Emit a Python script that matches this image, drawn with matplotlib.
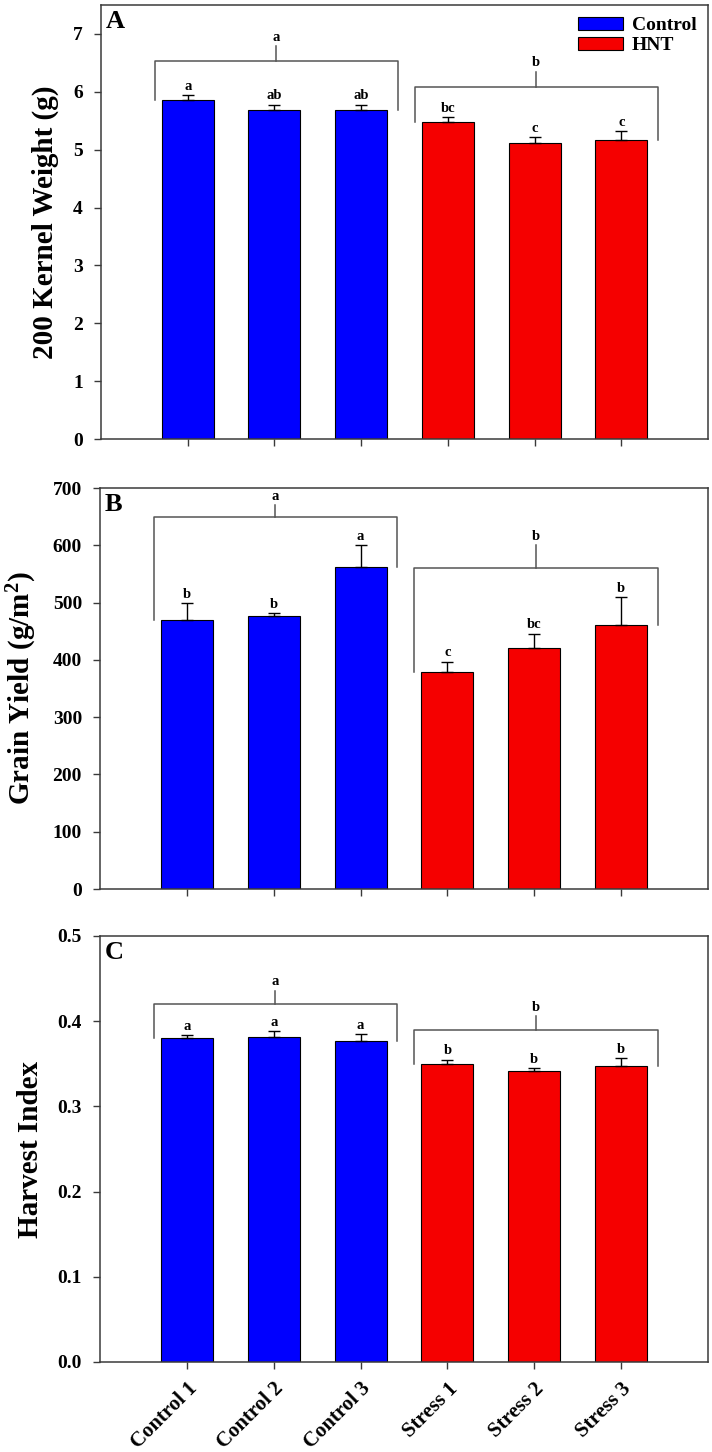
import matplotlib
matplotlib.use("Agg")
import matplotlib.pyplot as plt
from matplotlib.patches import Patch
import numpy as np


CATEGORIES = ["Control 1", "Control 2", "Control 3", "Stress 1", "Stress 2", "Stress 3"]

# panel A - 200 kernel weight
KW_MEAN = [5.85, 5.68, 5.69, 5.47, 5.12, 5.17]
KW_ERR = [0.10, 0.10, 0.09, 0.10, 0.10, 0.15]
KW_LETTERS = ["a", "ab", "ab", "bc", "c", "c"]
KW_GROUP = [6.54, 6.08]        # bracket heights (control, stress)
KW_GROUP_TOP = [6.79, 6.35]

# panel B - grain yield
GY_MEAN = [469, 476, 562, 379, 420, 460]
GY_ERR = [30, 5, 38, 18, 26, 49]
GY_LETTERS = ["b", "b", "a", "c", "bc", "b"]
GY_GROUP = [650, 561]
GY_GROUP_TOP = [671, 600]

# panel C - harvest index
HI_MEAN = [0.380, 0.381, 0.377, 0.350, 0.341, 0.347]
HI_ERR = [0.004, 0.007, 0.008, 0.005, 0.004, 0.010]
HI_LETTERS = ["a", "a", "a", "b", "b", "b"]
HI_GROUP = [0.420, 0.390]
HI_GROUP_TOP = [0.436, 0.406]

GROUP_LETTERS = ["a", "b"]

# COLORS
CONTROL_COLOR = "#0000FF"
STRESS_COLOR = "#F50000"
SPINE_COLOR = "#3a3a3a"
BRACKET_COLOR = "#555555"

FONT = "Liberation Serif"


def draw_panel(ax, means, errs, letters, group_y, group_top, ylim, yticks,
               ylabel, tag, yfmt):
    x = np.arange(len(means))
    colors = [CONTROL_COLOR] * 3 + [STRESS_COLOR] * 3
    ax.bar(x, means, width=0.6, color=colors, edgecolor="black", linewidth=0.8, zorder=2)
    ax.errorbar(x, means, yerr=[np.zeros(len(errs)), errs], fmt="none",
                ecolor="black", elinewidth=1.0, capsize=4, capthick=1.0, zorder=3)

    for xi, m, e, lab in zip(x, means, errs, letters):
        ax.annotate(lab, (xi, m + e), xytext=(0, 1.5), textcoords="offset points",
                    ha="center", va="bottom", fontsize=10.5, fontweight="bold",
                    family=FONT)

    # group brackets
    spans = [(0, 2), (3, 5)]
    for (i0, i1), gy, gt, glab in zip(spans, group_y, group_top, GROUP_LETTERS):
        xl = i0 - 0.38
        xr = i1 + 0.42
        xc = (xl + xr) / 2
        ax.plot([xl, xl, xr, xr], [means[i0], gy, gy, means[i1]],
                color=BRACKET_COLOR, linewidth=1.1, zorder=1)
        ax.plot([xc, xc], [gy, gt], color=BRACKET_COLOR, linewidth=1.1, zorder=1)
        ax.annotate(glab, (xc, gt), xytext=(0, 1.5), textcoords="offset points",
                    ha="center", va="bottom", fontsize=10.5, fontweight="bold",
                    family=FONT)

    ax.set_xlim(-1, 6)
    ax.set_ylim(*ylim)
    ax.set_yticks(yticks)
    ax.set_yticklabels([yfmt.format(t) for t in yticks], fontweight="bold",
                       family=FONT, fontsize=14)
    ax.set_xticks(x)
    ax.set_ylabel(ylabel, fontsize=21, fontweight="bold", family=FONT, labelpad=10)
    ax.tick_params(axis="both", direction="out", length=5, width=1.0,
                   color=SPINE_COLOR, pad=8)
    ax.tick_params(axis="x", pad=7)
    for sp in ax.spines.values():
        sp.set_color(SPINE_COLOR)
        sp.set_linewidth(1.1)
    ax.text(0.008, 0.988, tag, transform=ax.transAxes, ha="left", va="top",
            fontsize=19, fontweight="bold", family=FONT)


def main():
    plt.rcParams["mathtext.fontset"] = "custom"
    plt.rcParams["mathtext.rm"] = "Liberation Serif:bold"
    plt.rcParams["mathtext.it"] = "Liberation Serif:bold"
    plt.rcParams["mathtext.bf"] = "Liberation Serif:bold"

    fig = plt.figure(figsize=(7.12, 14.52), dpi=100)
    ax_a = fig.add_axes([101 / 712, 1 - 439 / 1452, 607 / 712, 434 / 1452])
    ax_b = fig.add_axes([100 / 712, 1 - 889 / 1452, 608 / 712, 401 / 1452])
    ax_c = fig.add_axes([100 / 712, 1 - 1362 / 1452, 608 / 712, 426 / 1452])

    draw_panel(ax_a, KW_MEAN, KW_ERR, KW_LETTERS, KW_GROUP, KW_GROUP_TOP,
               (0, 7.5), range(0, 8), "200 Kernel Weight (g)", "A", "{:d}")
    draw_panel(ax_b, GY_MEAN, GY_ERR, GY_LETTERS, GY_GROUP, GY_GROUP_TOP,
               (0, 700), range(0, 701, 100), r"Grain Yield (g/m$^2$)", "B", "{:d}")
    draw_panel(ax_c, HI_MEAN, HI_ERR, HI_LETTERS, HI_GROUP, HI_GROUP_TOP,
               (0, 0.5), [0.0, 0.1, 0.2, 0.3, 0.4, 0.5], "Harvest Index", "C", "{:.1f}")

    ax_a.set_xticklabels([])
    ax_b.set_xticklabels([])
    ax_c.set_xticklabels(CATEGORIES, rotation=45, ha="right", rotation_mode="anchor",
                         fontsize=15, fontweight="bold", family=FONT)

    handles = [Patch(facecolor=CONTROL_COLOR, edgecolor="black", linewidth=0.8, label="Control"),
               Patch(facecolor=STRESS_COLOR, edgecolor="black", linewidth=0.8, label="HNT")]
    ax_a.legend(handles=handles, loc="upper right", frameon=False,
                prop={"family": FONT, "weight": "bold", "size": 14},
                handlelength=2.3, handleheight=0.65, handletextpad=0.45,
                labelspacing=0.15, borderaxespad=0.2)

    fig.savefig("out.png", dpi=100)


if __name__ == "__main__":
    main()
